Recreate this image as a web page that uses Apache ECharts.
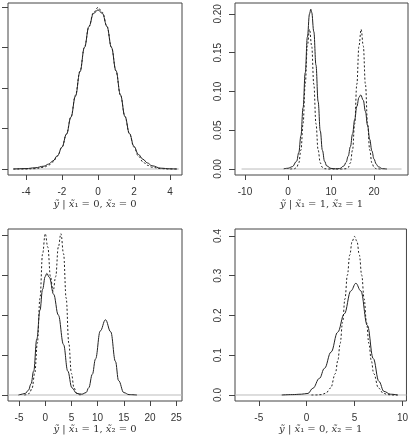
<!DOCTYPE html>
<html>
<head>
<meta charset="utf-8">
<script src="https://cdn.jsdelivr.net/npm/echarts@6/dist/echarts.min.js"></script>
<style>
  html, body { margin: 0; padding: 0; background: #fff; }
  #chart { width: 411px; height: 435px; }
</style>
</head>
<body>
<div id="chart"></div>
<script>
// panel 1: y | x1 = 0, x2 = 0
var p1X = [-4.7, -4, -3.5, -3, -2.75, -2.5, -2.25, -2, -1.75, -1.5, -1.25, -1, -0.75, -0.5, -0.25, 0, 0.25, 0.5, 0.75, 1, 1.25, 1.5, 1.75, 2, 2.25, 2.5, 2.75, 3, 3.5, 4, 4.4];
var p1Est = [0, 0.001, 0.003, 0.007, 0.012, 0.02, 0.033, 0.054, 0.086, 0.128, 0.18, 0.24, 0.3, 0.352, 0.384, 0.393, 0.384, 0.352, 0.3, 0.243, 0.183, 0.13, 0.088, 0.056, 0.036, 0.024, 0.015, 0.008, 0.002, 0.0005, 0];
var p1True = [0, 0.0001, 0.0009, 0.0044, 0.0091, 0.0175, 0.0317, 0.054, 0.0863, 0.1295, 0.1826, 0.242, 0.3011, 0.3521, 0.3867, 0.3989, 0.3867, 0.3521, 0.3011, 0.242, 0.1826, 0.1295, 0.0863, 0.054, 0.0317, 0.0175, 0.0091, 0.0044, 0.0009, 0.0001, 0];

// panel 2: y | x1 = 1, x2 = 1
var p2EstX = [-1, 0, 1, 2, 2.5, 3, 3.5, 4, 4.5, 5, 5.3, 5.5, 6, 6.5, 7, 7.5, 8, 8.5, 9, 10, 11, 12, 13, 13.5, 14, 14.5, 15, 15.5, 16, 16.5, 16.9, 17.5, 18, 18.5, 19, 19.5, 20, 20.5, 21, 22, 23];
var p2Est = [0.0003, 0.001, 0.003, 0.01, 0.021, 0.043, 0.079, 0.124, 0.17, 0.2, 0.206, 0.202, 0.177, 0.134, 0.087, 0.049, 0.024, 0.01, 0.004, 0.0008, 0.0003, 0.0006, 0.004, 0.0086, 0.0166, 0.0288, 0.045, 0.0635, 0.0807, 0.0924, 0.0955, 0.0886, 0.0742, 0.056, 0.0381, 0.0234, 0.0129, 0.0064, 0.0029, 0.0004, 0];
var p2TrueX = [0.5, 1.5, 2, 2.5, 3, 3.5, 4, 4.5, 5, 5.5, 6, 6.5, 7, 7.5, 8, 8.5, 9.5, 12.5, 13.5, 14, 14.5, 15, 15.5, 16, 16.5, 17, 17.5, 18, 18.5, 19, 19.5, 20, 20.5, 21.5];
var p2True = [0, 0.0004, 0.002, 0.0079, 0.0244, 0.0584, 0.1092, 0.1588, 0.18, 0.1588, 0.1092, 0.0584, 0.0244, 0.0079, 0.002, 0.0004, 0, 0, 0.0004, 0.002, 0.0079, 0.0244, 0.0584, 0.1092, 0.1588, 0.18, 0.1588, 0.1092, 0.0584, 0.0244, 0.0079, 0.002, 0.0004, 0];

// panel 3: y | x1 = 1, x2 = 0
var p3EstX = [-5.1, -4.8, -3.8, -3.2, -2.7, -2.2, -1.6, -1, -0.5, 0, 0.3, 0.8, 1.6, 2.5, 3.5, 4.3, 5.1, 6, 7, 7.8, 8.3, 9, 9.6, 10.5, 11.5, 12.5, 13.4, 14, 15, 16, 17.5];
var p3Est = [0, 0.0005, 0.002, 0.006, 0.014, 0.03, 0.07, 0.106, 0.132, 0.148, 0.152, 0.147, 0.126, 0.1, 0.063, 0.03, 0.009, 0.002, 0.001, 0.003, 0.009, 0.026, 0.045, 0.08, 0.094, 0.079, 0.042, 0.018, 0.003, 0.0005, 0];
var p3TrueX = [-4, -3.5, -3, -2.5, -2, -1.5, -1, -0.5, 0, 0.5, 1, 1.5, 2, 2.5, 3, 3.5, 4, 4.5, 5, 5.5, 6, 6.5, 7];
var p3True = [0, 0.0004, 0.0022, 0.0088, 0.027, 0.0648, 0.121, 0.1765, 0.2017, 0.1848, 0.148, 0.1295, 0.148, 0.1848, 0.2017, 0.1765, 0.121, 0.0648, 0.027, 0.0088, 0.0022, 0.0004, 0];

// panel 4: y | x1 = 0, x2 = 1
var p4EstX = [-2.6, -1.5, -0.55, 0.14, 0.65, 1.34, 1.86, 2.55, 3.24, 3.93, 4.62, 5.14, 5.65, 6.34, 6.95, 7.55, 8.07, 8.76, 9.5];
var p4Est = [0, 0.001, 0.002, 0.004, 0.017, 0.042, 0.067, 0.108, 0.158, 0.204, 0.262, 0.281, 0.262, 0.175, 0.092, 0.034, 0.009, 0.002, 0];
var p4TrueX = [0.5, 1, 1.5, 2, 2.5, 3, 3.25, 3.5, 3.75, 4, 4.25, 4.5, 4.75, 5, 5.25, 5.5, 5.75, 6, 6.25, 6.5, 6.75, 7, 7.5, 8, 8.5, 9, 9.5];
var p4True = [0, 0.0001, 0.0009, 0.0044, 0.0175, 0.054, 0.0863, 0.1295, 0.1826, 0.242, 0.3011, 0.3521, 0.3867, 0.3989, 0.3867, 0.3521, 0.3011, 0.242, 0.1826, 0.1295, 0.0863, 0.054, 0.0175, 0.0044, 0.0009, 0.0001, 0];

// axis ticks
var p1XTicks = [-4, -2, 0, 2, 4];
var p1YTicks = [0, 0.1, 0.2, 0.3, 0.4];
var p2XTicks = [-10, 0, 10, 20];
var p2YTicks = [0, 0.05, 0.1, 0.15, 0.2];
var p3XTicks = [-5, 0, 5, 10, 15, 20, 25];
var p3YTicks = [0, 0.05, 0.1, 0.15, 0.2];
var p4XTicks = [-5, 0, 5, 10];
var p4YTicks = [0, 0.1, 0.2, 0.3, 0.4];

var titles = [
    '{i|ỹ} | {i|x̃}₁ = 0, {i|x̃}₂ = 0',
    '{i|ỹ} | {i|x̃}₁ = 1, {i|x̃}₂ = 1',
    '{i|ỹ} | {i|x̃}₁ = 1, {i|x̃}₂ = 0',
    '{i|ỹ} | {i|x̃}₁ = 0, {i|x̃}₂ = 1'
];

function pairs(xs, ys) {
    return xs.map(function (x, i) { return [x, ys[i]]; });
}

var ink = '#222';
var boxes = [
    {left: 8, top: 3, width: 174, height: 172},
    {left: 235, top: 3, width: 173, height: 172},
    {left: 8, top: 229, width: 174, height: 172},
    {left: 235, top: 229, width: 173, height: 172}
];
var xr = [[-5.0, 4.67], [-12.33, 27.9], [-7.1, 26.1], [-7.48, 10.42]];
var yr = [[-0.0148, 0.41], [-0.0077, 0.214], [-0.0075, 0.2075], [-0.0151, 0.4176]];
var xt = [p1XTicks, p2XTicks, p3XTicks, p4XTicks];
var yt = [p1YTicks, p2YTicks, p3YTicks, p4YTicks];
var yDigits = [1, 2, 2, 1];
var showY = [false, true, false, true];
var zeroLine = [[-4.7, 4.5], [-10.8, 26.4], [-7.1, 26.1], [-7.48, 10.42]];

var labelFont = {color: '#333', fontSize: 10, fontFamily: 'Liberation Sans, Arial, sans-serif'};

var grid = [], xAxis = [], yAxis = [], series = [];

boxes.forEach(function (b, k) {
    grid.push({
        left: b.left, top: b.top, width: b.width, height: b.height,
        show: true, borderColor: '#444', borderWidth: 1, backgroundColor: 'transparent'
    });
    xAxis.push({
        type: 'value', gridIndex: k, min: xr[k][0], max: xr[k][1], position: 'bottom',
        axisLine: {show: false, onZero: false},
        splitLine: {show: false},
        axisTick: {show: true, length: 5, customValues: xt[k], lineStyle: {color: '#444'}},
        axisLabel: Object.assign({customValues: xt[k], margin: 12}, labelFont),
        name: titles[k], nameLocation: 'middle', nameGap: k < 2 ? 24 : 23,
        nameTextStyle: {
            color: '#333', fontSize: 10, fontFamily: 'DejaVu Serif, Liberation Serif, serif',
            rich: {i: {fontStyle: 'italic', fontSize: 10, color: '#333', fontFamily: 'DejaVu Serif, Liberation Serif, serif'}}
        }
    });
    yAxis.push({
        type: 'value', gridIndex: k, min: yr[k][0], max: yr[k][1], position: 'left',
        axisLine: {show: false, onZero: false},
        splitLine: {show: false},
        axisTick: {show: true, length: 6, customValues: yt[k], lineStyle: {color: '#444'}},
        axisLabel: Object.assign({
            show: showY[k], customValues: yt[k], rotate: 90, margin: 12,
            formatter: (function (d) { return function (v) { return v.toFixed(d); }; })(yDigits[k])
        }, labelFont)
    });
});

var est = [pairs(p1X, p1Est), pairs(p2EstX, p2Est), pairs(p3EstX, p3Est), pairs(p4EstX, p4Est)];
var tru = [pairs(p1X, p1True), pairs(p2TrueX, p2True), pairs(p3TrueX, p3True), pairs(p4TrueX, p4True)];

for (var k = 0; k < 4; k++) {
    series.push({
        type: 'line', xAxisIndex: k, yAxisIndex: k, silent: true, symbol: 'none',
        data: [[zeroLine[k][0], 0], [zeroLine[k][1], 0]],
        lineStyle: {color: '#bbb', width: 1}, z: 1
    });
    series.push({
        type: 'line', xAxisIndex: k, yAxisIndex: k, silent: true, symbol: 'none',
        smooth: 0.4, smoothMonotone: 'x',
        data: tru[k],
        lineStyle: {color: ink, width: 1, type: [2, 2]}, z: 2
    });
    series.push({
        type: 'line', xAxisIndex: k, yAxisIndex: k, silent: true, symbol: 'none',
        smooth: 0.4, smoothMonotone: 'x',
        data: est[k],
        lineStyle: {color: ink, width: 1}, z: 3
    });
}

var chart = echarts.init(document.getElementById('chart'), null, {renderer: 'canvas'});
chart.setOption({
    animation: false,
    grid: grid,
    xAxis: xAxis,
    yAxis: yAxis,
    series: series
});
</script>
</body>
</html>
